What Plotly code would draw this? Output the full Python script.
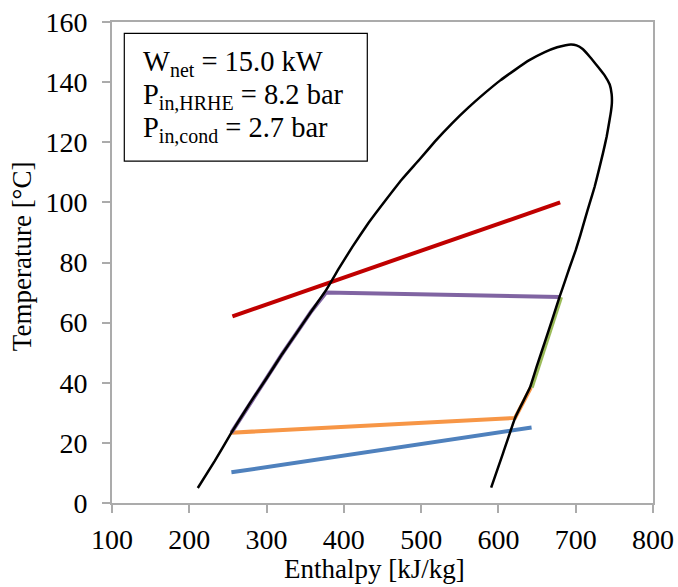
import plotly.graph_objects as go

# Saturation dome (enthalpy kJ/kg, temperature °C)
dome_h = [211, 233, 254.5, 280, 300, 320, 340, 358, 377, 394, 411, 432, 454, 475, 497, 518,
          540, 561, 583, 602, 621, 640, 660, 676, 687, 694, 701, 709, 719, 729, 738, 744,
          746.5, 746.8, 745.5, 743.8, 740, 735.2, 730, 724.5, 718, 711.6, 706, 700, 692.3,
          686, 679.4, 670, 660, 650, 640.8, 631, 621.5, 606, 590.6]
dome_T = [5, 14, 23.4, 33.8, 41.5, 49.5, 57, 63.8, 70.8, 78.2, 85.2, 93.2, 100.7, 107.6, 114,
          120.3, 126.3, 131.5, 136.5, 140.5, 144, 147.3, 150, 151.6, 152.3, 152.5, 152.2, 151,
          148.2, 145, 142, 139.2, 136, 133, 130, 127.4, 121.8, 116.3, 110.8, 105.2, 99.7, 94.1,
          89.1, 84.1, 78.5, 73.7, 68.8, 61.3, 53.5, 45.8, 38.4, 33.3, 28.3, 16.6, 5.1]

# Heat source (red)
hot_h = [255.8, 679.9]
hot_T = [62.1, 100]
# Cooling water (blue)
cold_h = [254.5, 642.9]
cold_T = [10.2, 25.1]
# Condensation / cooling (orange)
cond_h = [642, 631, 621.5, 254.5]
cond_T = [38.4, 33.3, 28.3, 23.4]
# Heating + evaporation (purple)
evap_h = [254.5, 280, 300, 320, 340, 358, 377, 679.4]
evap_T = [23.4, 33.8, 41.5, 49.5, 57, 63.8, 70.0, 68.5]
# Expansion (green)
exp_h = [681, 672, 662, 652, 643]
exp_T = [68.5, 61.3, 53.5, 45.8, 38.4]

FONT = "Times New Roman, Liberation Serif, serif"

fig = go.Figure()
fig.add_trace(go.Scatter(x=hot_h, y=hot_T, mode="lines", line=dict(color="#C00000", width=4)))
fig.add_trace(go.Scatter(x=cold_h, y=cold_T, mode="lines", line=dict(color="#4F81BD", width=4)))
fig.add_trace(go.Scatter(x=cond_h, y=cond_T, mode="lines", line=dict(color="#F79646", width=4)))
fig.add_trace(go.Scatter(x=evap_h, y=evap_T, mode="lines", line=dict(color="#8064A2", width=4)))
fig.add_trace(go.Scatter(x=exp_h, y=exp_T, mode="lines", line=dict(color="#9BBB59", width=4)))
fig.add_trace(go.Scatter(x=dome_h, y=dome_T, mode="lines",
                         line=dict(color="black", width=2.5, shape="spline", smoothing=0.3)))

axis_common = dict(showgrid=False, zeroline=False, showline=True, linecolor="#ABABAB",
                   linewidth=1.8, mirror=True, ticks="outside", tickcolor="#ABABAB",
                   ticklen=8, tickwidth=1.8, automargin=False,
                   tickfont=dict(family=FONT, size=28, color="black"))

fig.update_layout(
    width=678, height=587, autosize=False,
    margin=dict(l=112, r=25, t=22, b=84, autoexpand=False),
    paper_bgcolor="white", plot_bgcolor="white",
    showlegend=False,
    xaxis=dict(range=[100, 800], tick0=100, dtick=100, ticklabelstandoff=2, **axis_common),
    yaxis=dict(range=[0, 160], tick0=0, dtick=20, ticklabelstandoff=9, **axis_common),
    font=dict(family=FONT, size=27, color="black"),
)

PW, PH = 541.0, 480.7
def px(x):
    return (x - 112) / PW
def py(y):
    return (502.7 - y) / PH

# axis titles
fig.add_annotation(text="Enthalpy [kJ/kg]", xref="paper", yref="paper",
                   x=px(374), y=py(569),
                   showarrow=False, font=dict(family=FONT, size=27, color="black"),
                   xanchor="center", yanchor="middle")
fig.add_annotation(text="Temperature [°C]", xref="paper", yref="paper",
                   x=px(22), y=py(256), textangle=-90,
                   showarrow=False, font=dict(family=FONT, size=27, color="black"),
                   xanchor="center", yanchor="middle")

# info box
fig.add_shape(type="rect", xref="paper", yref="paper",
              x0=px(124.3), x1=px(367.3), y0=py(161), y1=py(33.3),
              line=dict(color="black", width=1.2), fillcolor="white")
lines = ["W<sub>net</sub> = 15.0 kW",
         "P<sub>in,HRHE</sub> = 8.2 bar",
         "P<sub>in,cond</sub> = 2.7 bar"]
ys = [63, 96, 129]
for t, yy in zip(lines, ys):
    fig.add_annotation(text=t, xref="paper", yref="paper",
                       x=px(141), y=py(yy),
                       showarrow=False, font=dict(family=FONT, size=28.5, color="black"),
                       xanchor="left", yanchor="middle")

fig.write_html("out.html")
